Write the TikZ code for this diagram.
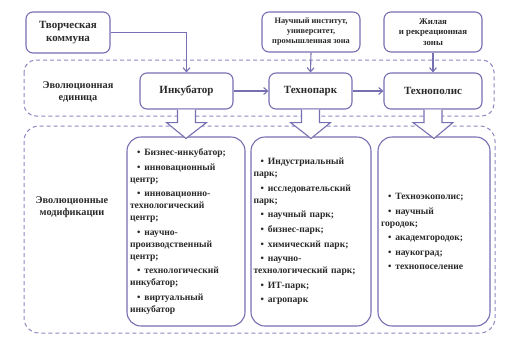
\documentclass[tikz,border=0pt]{standalone}
\usepackage{fontspec}
\setmainfont{Liberation Serif}
\usetikzlibrary{arrows.meta}
\definecolor{pur}{HTML}{7670B2}
\definecolor{dpur}{HTML}{8C88C4}
\definecolor{txt}{HTML}{2A2A2A}
\newcommand{\itm}{\hspace*{7pt}\textbullet\hspace{4pt}}
\begin{document}
\begin{tikzpicture}[x=1pt,y=-1pt,
  topbox/.style={draw=pur, line width=1.1pt, rounded corners=7pt, fill=white, align=center,
     text=txt, inner sep=1pt, font=\bfseries\fontsize{11}{13}\selectfont},
  listbox/.style={draw=pur, line width=1.1pt, rounded corners=14pt, fill=white, align=left,
     text=txt, inner sep=0pt, font=\bfseries\fontsize{9.6}{12}\selectfont},
  dashbox/.style={draw=dpur, line width=1pt, dash pattern=on 4pt off 3pt, rounded corners=12pt},
  lbl/.style={align=center, text=txt, font=\bfseries\fontsize{10.3}{12.5}\selectfont},
  conn/.style={draw=pur, line width=1.1pt, -{Straight Barb[length=4pt,width=7pt]}},
  blockarr/.style={draw=pur, line width=1.1pt, fill=white, line join=miter}
]
\useasboundingbox (0,0) rectangle (508,343);

% dashed groups
\draw[dashbox] (24,60) rectangle (494,116);
\draw[dashbox, rounded corners=15pt] (24,126) rectangle (495,333);

\node[lbl] (lab1) at (78,92) {Эволюционная\\единица};
\node[lbl] (lab2) at (72,207) {Эволюционные\\модификации};

% top sources
\node[topbox, minimum width=84pt, minimum height=41pt] (komm) at (68,32.5) {Творческая\\коммуна};
\node[topbox, minimum width=98pt, minimum height=40pt, font=\bfseries\fontsize{8.3}{10}\selectfont] (nauch) at (311,32) {Научный институт,\\университет,\\промышленная зона};
\node[topbox, minimum width=98pt, minimum height=40pt, font=\bfseries\fontsize{8.8}{10.5}\selectfont] (zhil) at (433,32) {Жилая\\и рекреационная\\зоны};

% evolution units
\node[topbox, minimum width=93pt, minimum height=36pt] (ink) at (186.5,91) {Инкубатор};
\node[topbox, minimum width=83pt, minimum height=36pt] (tpark) at (310.5,91) {Технопарк};
\node[topbox, minimum width=98pt, minimum height=36pt] (tpol) at (433,91) {Технополис};

% connectors
\coordinate (kc) at (186.5,32.5);
\draw[conn] (komm.east) -- (kc) -- (ink.north);
\draw[conn] (nauch.south) -- (tpark.north);
\draw[conn] (zhil.south) -- (tpol.north);
\draw[conn] (ink.east) -- (tpark.west);
\draw[conn] (tpark.east) -- (tpol.west);

% modification lists
\node[listbox, minimum width=118pt, minimum height=189pt, text width=112pt] (m1) at (186,231.5) {%
\itm Бизнес-инкубатор;\\[2.6pt]
\itm инновационный\\
центр;\\[2.6pt]
\itm инновационно-\\
технологический\\
центр;\\[2.6pt]
\itm научно-\\
производственный\\
центр;\\[2.6pt]
\itm технологический\\
инкубатор;\\[2.6pt]
\itm виртуальный\\
инкубатор};

\node[listbox, minimum width=120pt, minimum height=189pt, text width=115pt] (m2) at (311,231.5) {%
\itm Индустриальный\\
парк;\\[2.6pt]
\itm исследовательский\\
парк;\\[2.6pt]
\itm научный парк;\\[2.6pt]
\itm бизнес-парк;\\[2.6pt]
\itm химический парк;\\[2.6pt]
\itm научно-\\
технологический парк;\\[2.6pt]
\itm ИТ-парк;\\[2.6pt]
\itm агропарк};

\node[listbox, minimum width=112pt, minimum height=189pt, text width=106pt] (m3) at (434,231.5) {%
\itm Техноэкополис;\\[2.6pt]
\itm научный\\
городок;\\[2.6pt]
\itm академгородок;\\[2.6pt]
\itm наукоград;\\[2.6pt]
\itm технопоселение};

% block arrows
\foreach \src/\dst in {ink/m1, tpark/m2, tpol/m3}{
  \draw[blockarr] ([xshift=-9pt]\src.south) -- ++(0,13) -- ++(-11,0)
     -- ([yshift=-2pt]\dst.north) -- ([xshift=20pt,yshift=-13pt]\src.south) -- ++(-11,0) -- ([xshift=9pt]\src.south);
}
\end{tikzpicture}
\end{document}
